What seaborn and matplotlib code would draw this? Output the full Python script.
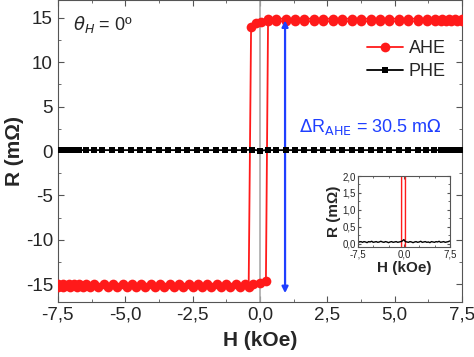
import numpy as np
import pandas as pd
import matplotlib
matplotlib.use('Agg')
import matplotlib.pyplot as plt
from matplotlib.ticker import FuncFormatter, MultipleLocator
import seaborn as sns

# AHE: sweep from +7.5 down to -7.5
h_down = [7.5, 7.3, 7.1, 6.9, 6.7, 6.5, 6.2, 5.85, 5.5, 5.15, 4.8, 4.45, 4.1, 3.75, 3.4,
          3.05, 2.7, 2.35, 2.0, 1.65, 1.3, 0.95, 0.6, 0.28, 0.05, -0.13, -0.33, -0.42,
          -0.75, -1.1, -1.45, -1.8, -2.15, -2.5, -2.85, -3.2, -3.55, -3.9, -4.25, -4.6,
          -4.95, -5.3, -5.65, -6.0, -6.3, -6.55, -6.8, -7.05, -7.3, -7.5]
r_down = [14.6, 14.6, 14.6, 14.6, 14.6, 14.6, 14.6, 14.6, 14.6, 14.6, 14.6, 14.6, 14.6, 14.6, 14.6,
          14.6, 14.6, 14.6, 14.6, 14.6, 14.6, 14.6, 14.6, 14.6, 14.5, 14.4, 14.0, -15.3,
          -15.3, -15.3, -15.3, -15.3, -15.3, -15.3, -15.3, -15.3, -15.3, -15.3, -15.3, -15.3,
          -15.3, -15.3, -15.3, -15.3, -15.3, -15.3, -15.3, -15.3, -15.3, -15.3]
# AHE: sweep from -7.5 up to +7.5
h_up = [-7.5, -7.3, -7.1, -6.9, -6.7, -6.45, -6.15, -5.8, -5.45, -5.1, -4.75, -4.4, -4.05,
        -3.7, -3.35, -3.0, -2.65, -2.3, -1.95, -1.6, -1.25, -0.9, -0.55, -0.25, 0.0, 0.22,
        0.3, 0.6, 0.95, 1.3, 1.65, 2.0, 2.35, 2.7, 3.05, 3.4, 3.75, 4.1, 4.45, 4.8, 5.15,
        5.5, 5.85, 6.2, 6.5, 6.75, 7.0, 7.25, 7.5]
r_up = [-14.95, -14.95, -14.95, -14.95, -14.95, -14.95, -14.95, -14.95, -14.95, -14.95, -14.95,
        -14.95, -14.95, -14.95, -14.95, -14.95, -14.95, -14.95, -14.95, -14.95, -14.95, -14.95,
        -14.95, -14.95, -14.85, -14.6,
        14.9, 14.9, 14.9, 14.9, 14.9, 14.9, 14.9, 14.9, 14.9, 14.9, 14.9, 14.9, 14.9, 14.9, 14.9,
        14.9, 14.9, 14.9, 14.9, 14.9, 14.9, 14.9, 14.9]
# PHE
h_phe = [-7.5, -7.3, -7.1, -6.9, -6.7, -6.45, -6.15, -5.85, -5.5, -5.15, -4.8, -4.45, -4.1,
         -3.75, -3.4, -3.05, -2.7, -2.35, -2.0, -1.65, -1.3, -0.95, -0.6, -0.3, 0.0, 0.3,
         0.6, 0.95, 1.3, 1.65, 2.0, 2.35, 2.7, 3.05, 3.4, 3.75, 4.1, 4.45, 4.8, 5.15, 5.5,
         5.85, 6.15, 6.45, 6.7, 6.9, 7.1, 7.3, 7.5]
r_phe = [0.15, 0.1, 0.1, 0.1, 0.1, 0.1, 0.1, 0.1, 0.1, 0.1, 0.1, 0.1, 0.1,
         0.1, 0.1, 0.1, 0.1, 0.1, 0.1, 0.1, 0.1, 0.1, 0.1, 0.15, 0.05, 0.1,
         0.1, 0.1, 0.1, 0.1, 0.1, 0.1, 0.1, 0.1, 0.1, 0.1, 0.1, 0.1, 0.1, 0.1, 0.1,
         0.1, 0.1, 0.1, 0.1, 0.1, 0.1, 0.1, 0.1]
# inset PHE (fine, noisy)
h_ins = [-7.5, -7.25, -7.0, -6.75, -6.5, -6.25, -6.0, -5.75, -5.5, -5.25, -5.0, -4.75, -4.5,
         -4.25, -4.0, -3.75, -3.5, -3.25, -3.0, -2.75, -2.5, -2.25, -2.0, -1.75, -1.5, -1.25,
         -1.0, -0.75, -0.5, -0.25, 0.0, 0.25, 0.5, 0.75, 1.0, 1.25, 1.5, 1.75, 2.0, 2.25, 2.5,
         2.75, 3.0, 3.25, 3.5, 3.75, 4.0, 4.25, 4.5, 4.75, 5.0, 5.25, 5.5, 5.75, 6.0, 6.25,
         6.5, 6.75, 7.0, 7.25, 7.5]
r_ins = [0.08, 0.05, 0.06, 0.04, 0.06, 0.05, 0.03, 0.06, 0.05, 0.07, 0.04, 0.05, 0.06,
         0.04, 0.05, 0.07, 0.05, 0.04, 0.06, 0.05, 0.03, 0.05, 0.06, 0.04, 0.05, 0.06,
         0.04, 0.05, 0.06, 0.08, 0.12, 0.06, 0.05, 0.04, 0.06, 0.05, 0.03, 0.05, 0.06, 0.04,
         0.05, 0.07, 0.04, 0.05, 0.06, 0.04, 0.05, 0.03, 0.06, 0.05, 0.04, 0.06, 0.05, 0.07,
         0.04, 0.05, 0.06, 0.04, 0.05, 0.06, 0.08]

df_ahe = pd.DataFrame({'H': h_down + h_up, 'R': r_down + r_up,
                       'branch': ['down'] * len(h_down) + ['up'] * len(h_up)})
df_phe = pd.DataFrame({'H': h_phe, 'R': r_phe})
df_ins = pd.DataFrame({'H': h_ins, 'R': r_ins})

sns.set_style('ticks')
plt.rcParams['font.family'] = ['Liberation Sans', 'DejaVu Sans']
plt.rcParams['axes.unicode_minus'] = False
plt.rcParams['xtick.direction'] = 'in'
plt.rcParams['ytick.direction'] = 'in'

red = '#ff1a1a'
fig = plt.figure(figsize=(4.74, 3.57), dpi=100)
ax = fig.add_axes([0.122, 0.154, 0.853, 0.846])
ax.axvline(0, color='#aaaaaa', lw=1.2, zorder=1)

for b in ['down', 'up']:
    sns.lineplot(data=df_ahe[df_ahe.branch == b], x='H', y='R', sort=False, estimator=None,
                 color=red, lw=1.3, marker='o', markersize=7, markeredgewidth=0,
                 ax=ax, label='AHE' if b == 'down' else None, zorder=3)
sns.lineplot(data=df_phe, x='H', y='R', sort=False, estimator=None, color='black', lw=1.3,
             marker='s', markersize=4.5, markeredgewidth=0, ax=ax, label='PHE', zorder=4)

ax.set_xlim(-7.5, 7.5)
ax.set_ylim(-17, 17)
ax.xaxis.set_major_locator(MultipleLocator(2.5))
ax.xaxis.set_minor_locator(MultipleLocator(1.25))
ax.yaxis.set_major_locator(MultipleLocator(5))
ax.yaxis.set_minor_locator(MultipleLocator(2.5))
ax.xaxis.set_major_formatter(FuncFormatter(lambda v, p: f'{v:.1f}'.replace('.', ',')))
ax.yaxis.set_major_formatter(FuncFormatter(lambda v, p: f'{v:.0f}'))
ax.tick_params(which='both', top=True, right=True, color='#555555', labelsize=13.5)
ax.tick_params(which='major', length=4)
ax.tick_params(which='minor', length=2.5)
for s in ax.spines.values():
    s.set_color('#555555')
ax.set_xlabel('H (kOe)', fontsize=15, fontweight='bold', labelpad=5)
ax.set_ylabel('R (m\u03a9)', fontsize=15, fontweight='bold', labelpad=1)

ax.text(-6.95, 14.2, r'$\theta_H$ = 0º', fontsize=13, va='center')
ax.annotate('', xy=(0.93, 14.7), xytext=(0.93, -16.0),
            arrowprops=dict(arrowstyle='<|-|>', color='#1f3fff', lw=1.6,
                            mutation_scale=9, shrinkA=0, shrinkB=0))
ax.text(1.45, 2.7, r'$\Delta$R$_{\rm AHE}$ = 30.5 m$\Omega$', color='#1f3fff', fontsize=13,
        va='center')
leg = ax.legend(loc='upper right', bbox_to_anchor=(1.0, 0.92), frameon=False, fontsize=13,
                handlelength=2.0, handletextpad=0.3, labelspacing=0.3)

# inset
ins = fig.add_axes([0.755, 0.308, 0.194, 0.199])
sns.lineplot(data=df_ahe[df_ahe.branch == 'down'], x='H', y='R', sort=False, estimator=None,
             color=red, lw=1.0, ax=ins)
sns.lineplot(data=df_ahe[df_ahe.branch == 'up'], x='H', y='R', sort=False, estimator=None,
             color=red, lw=1.0, ax=ins)
sns.lineplot(data=df_ins, x='H', y='R', sort=False, estimator=None, color='black', lw=1.0, ax=ins)
ins.set_xlim(-7.5, 7.5)
ins.set_ylim(-0.1, 2.0)
ins.set_xticks([-7.5, 0, 7.5])
ins.set_yticks([0, 0.5, 1.0, 1.5, 2.0])
ins.xaxis.set_minor_locator(MultipleLocator(2.5))
ins.yaxis.set_minor_locator(MultipleLocator(0.25))
ins.xaxis.set_major_formatter(FuncFormatter(lambda v, p: f'{v:.1f}'.replace('.', ',')))
ins.yaxis.set_major_formatter(FuncFormatter(lambda v, p: f'{v:.1f}'.replace('.', ',')))
ins.tick_params(which='both', top=True, right=True, color='#555555', labelsize=7, pad=1.5)
ins.tick_params(which='major', length=2.5)
ins.tick_params(which='minor', length=1.5)
for s in ins.spines.values():
    s.set_color('#555555')
ins.set_xlabel('H (kOe)', fontsize=11, fontweight='bold', labelpad=1)
ins.set_ylabel('R (m\u03a9)', fontsize=11, fontweight='bold', labelpad=1)

fig.savefig('out.png', dpi=100)
